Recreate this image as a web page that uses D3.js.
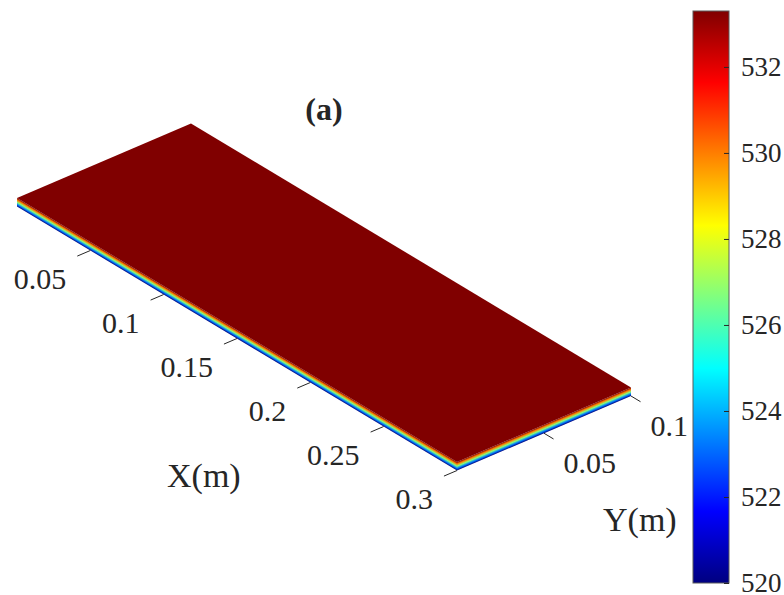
<!DOCTYPE html>
<html>
<head>
<meta charset="utf-8">
<script src="https://cdn.jsdelivr.net/npm/d3@7"></script>
<style>
  html, body { margin: 0; padding: 0; background: #fff; }
  svg { display: block; }
  text { font-family: "Liberation Serif", "Times New Roman", serif; fill: #262626; }
</style>
</head>
<body>
<svg id="chart" width="784" height="595"></svg>
<script>
// Plate geometry (m) and temperature field (K)
const xDomain = [0, 0.3];
const yDomain = [0, 0.1];
const xTicks = [0.05, 0.1, 0.15, 0.2, 0.25, 0.3];
const xTickLabels = ["0.05", "0.1", "0.15", "0.2", "0.25", "0.3"];
const yTicks = [0.05, 0.1];
const yTickLabels = ["0.05", "0.1"];
// through-thickness profile: height above bottom (mm) and temperature
const depthNodes = [0, 0.5, 1.0, 1.5, 2.0];
const depthTemps = [520.0, 523.3, 526.7, 530.0, 533.3];
const topTemp = 533.3;
// colour bar
const cbLimits = [520, 533.3];
const cbTicks = [520, 522, 524, 526, 528, 530, 532];

const svg = d3.select("#chart");
const defs = svg.append("defs");

// MATLAB "jet" colormap
const jetStops = [0, 0.125, 0.375, 0.625, 0.875, 1];
const jetColors = ["#000080", "#0000ff", "#00ffff", "#ffff00", "#ff0000", "#800000"];
const color = d3.scaleLinear()
  .domain(jetStops.map(t => cbLimits[0] + t * (cbLimits[1] - cbLimits[0])))
  .range(jetColors)
  .interpolate(d3.interpolateRgb)
  .clamp(true);

// oblique projection of the 3-D view
const origin = [17, 206.5];
const xS = d3.scaleLinear().domain(xDomain).range([0, 1]);
const yS = d3.scaleLinear().domain(yDomain).range([0, 1]);
const zS = d3.scaleLinear().domain([0, depthNodes[depthNodes.length - 1]]).range([0, 1]);
const Xv = [440, 264], Yv = [174, -74.5], Zv = [0, -8.5];
function proj(x, y, z) {
  const a = xS(x), b = yS(y), c = zS(z);
  return [origin[0] + a * Xv[0] + b * Yv[0] + c * Zv[0],
          origin[1] + a * Xv[1] + b * Yv[1] + c * Zv[1]];
}
const zTop = depthNodes[depthNodes.length - 1];
const poly = pts => "M" + pts.map(p => p.join(",")).join("L") + "Z";

// gradient across a side face whose long edge runs along direction d
function sideGradient(id, p0, d) {
  const len = Math.hypot(d[0], d[1]);
  let n = [d[1] / len, -d[0] / len];
  // thickness measured perpendicular to the edge
  const h = Zv[0] * n[0] + Zv[1] * n[1];
  if (h < 0) n = [-n[0], -n[1]];
  const dist = Math.abs(h);
  const g = defs.append("linearGradient").attr("id", id)
    .attr("gradientUnits", "userSpaceOnUse")
    .attr("x1", p0[0]).attr("y1", p0[1])
    .attr("x2", p0[0] + n[0] * dist).attr("y2", p0[1] + n[1] * dist);
  depthNodes.forEach((z, i) => {
    g.append("stop").attr("offset", z / zTop).attr("stop-color", color(depthTemps[i]));
  });
  return `url(#${id})`;
}

const plate = svg.append("g");
// front face (y = 0)
plate.append("path")
  .attr("d", poly([proj(0, 0, 0), proj(0.3, 0, 0), proj(0.3, 0, zTop), proj(0, 0, zTop)]))
  .attr("fill", sideGradient("gFront", proj(0, 0, 0), Xv));
// end face (x = 0.3)
plate.append("path")
  .attr("d", poly([proj(0.3, 0, 0), proj(0.3, 0.1, 0), proj(0.3, 0.1, zTop), proj(0.3, 0, zTop)]))
  .attr("fill", sideGradient("gEnd", proj(0.3, 0, 0), Yv));
// top surface
plate.append("path")
  .attr("d", poly([proj(0, 0, zTop), proj(0.3, 0, zTop), proj(0.3, 0.1, zTop), proj(0, 0.1, zTop)]))
  .attr("fill", color(topTemp));

// X axis ticks along the front bottom edge
const axisG = svg.append("g").attr("stroke", "#262626").attr("stroke-width", 1);
const xTickLen = 0.0075, yTickLen = 0.0065;
xTicks.forEach((v, i) => {
  const a = proj(v, 0, 0), b = proj(v, -xTickLen, 0);
  axisG.append("line").attr("x1", a[0]).attr("y1", a[1]).attr("x2", b[0]).attr("y2", b[1]);
  svg.append("text").attr("x", b[0] - 11).attr("y", b[1] + 33)
    .attr("text-anchor", "end").attr("font-size", 30).text(xTickLabels[i]);
});
// Y axis ticks along the end bottom edge
yTicks.forEach((v, i) => {
  const a = proj(0.3, v, 0), b = proj(0.3 + yTickLen, v, 0);
  axisG.append("line").attr("x1", a[0]).attr("y1", a[1]).attr("x2", b[0]).attr("y2", b[1]);
  svg.append("text").attr("x", b[0] + 10).attr("y", b[1] + 34)
    .attr("text-anchor", "start").attr("font-size", 30).text(yTickLabels[i]);
});

svg.append("text").attr("x", 167).attr("y", 487).attr("font-size", 34).text("X(m)");
svg.append("text").attr("x", 603).attr("y", 531).attr("font-size", 34).text("Y(m)");
svg.append("text").attr("x", 324).attr("y", 120).attr("text-anchor", "middle")
  .attr("font-size", 32).attr("font-weight", "bold").text("(a)");

// colour bar
const cbX = 693, cbW = 36, cbTop = 11, cbBot = 583;
const cS = d3.scaleLinear().domain(cbLimits).range([cbBot, cbTop]);
const cg = defs.append("linearGradient").attr("id", "gBar")
  .attr("gradientUnits", "userSpaceOnUse")
  .attr("x1", 0).attr("y1", cbBot).attr("x2", 0).attr("y2", cbTop);
jetStops.forEach((t, i) => cg.append("stop").attr("offset", t).attr("stop-color", jetColors[i]));
svg.append("rect").attr("x", cbX).attr("y", cbTop).attr("width", cbW).attr("height", cbBot - cbTop)
  .attr("fill", "url(#gBar)").attr("stroke", "#5a5a5a").attr("stroke-width", 1);
const cbAxis = d3.axisRight(cS).tickValues(cbTicks).tickSize(-5).tickPadding(12).tickFormat(d3.format("d"));
const cbG = svg.append("g").attr("transform", `translate(${cbX + cbW},0)`).call(cbAxis);
cbG.select(".domain").remove();
cbG.selectAll(".tick line").attr("stroke", "#262626");
cbG.selectAll(".tick text").attr("font-size", 27)
  .attr("font-family", "Liberation Serif, Times New Roman, serif").attr("fill", "#262626");
</script>
</body>
</html>
